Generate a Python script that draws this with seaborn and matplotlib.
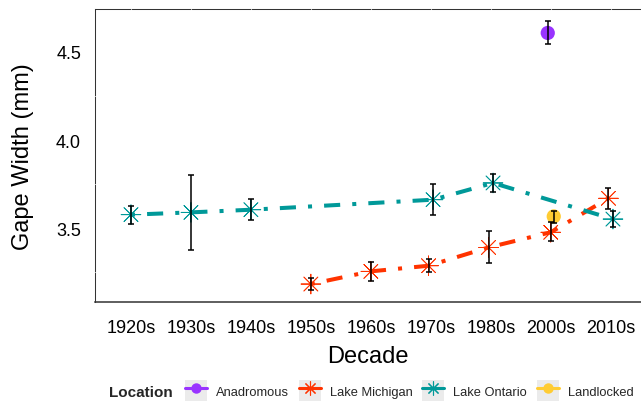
import numpy as np
import pandas as pd
import matplotlib
matplotlib.use("Agg")
import matplotlib.pyplot as plt
from matplotlib.lines import Line2D
from matplotlib.patches import Rectangle
from matplotlib.legend_handler import HandlerTuple
import seaborn as sns

# ---------------- data ----------------
decades = ["1920s", "1930s", "1940s", "1950s", "1960s", "1970s", "1980s", "2000s", "2010s"]
locations = ["Anadromous", "Lake Michigan", "Lake Ontario", "Landlocked"]

ontario_decades = ["1920s", "1930s", "1940s", "1970s", "1980s", "2010s"]
ontario_mean = [3.576, 3.589, 3.604, 3.661, 3.756, 3.551]
ontario_lo = [3.523, 3.373, 3.547, 3.572, 3.703, 3.504]
ontario_hi = [3.623, 3.801, 3.665, 3.752, 3.807, 3.598]

michigan_decades = ["1950s", "1960s", "1970s", "1980s", "2000s", "2010s"]
michigan_mean = [3.182, 3.254, 3.286, 3.390, 3.476, 3.669]
michigan_lo = [3.149, 3.199, 3.248, 3.299, 3.426, 3.610]
michigan_hi = [3.214, 3.309, 3.322, 3.481, 3.534, 3.727]

anadromous_decades = ["2000s"]
anadromous_mean = [4.608]
anadromous_lo = [4.545]
anadromous_hi = [4.676]

landlocked_decades = ["2000s"]
landlocked_mean = [3.566]
landlocked_lo = [3.527]
landlocked_hi = [3.598]

palette = {"Anadromous": "#9933FF", "Lake Michigan": "#FF3300",
           "Lake Ontario": "#009999", "Landlocked": "#FFCC33"}
asterisk = (8, 2, 0)
markers = {"Anadromous": "o", "Lake Michigan": asterisk,
           "Lake Ontario": asterisk, "Landlocked": "o"}

# ---------------- build table ----------------
frames = []
for loc, d, m, lo, hi in [
    ("Anadromous", anadromous_decades, anadromous_mean, anadromous_lo, anadromous_hi),
    ("Lake Michigan", michigan_decades, michigan_mean, michigan_lo, michigan_hi),
    ("Lake Ontario", ontario_decades, ontario_mean, ontario_lo, ontario_hi),
    ("Landlocked", landlocked_decades, landlocked_mean, landlocked_lo, landlocked_hi),
]:
    frames.append(pd.DataFrame({"Decade": d, "Location": loc, "Gape": m, "lo": lo, "hi": hi}))
df = pd.concat(frames, ignore_index=True)

# dodge positions (like position_dodge)
dodge_w = 0.15
df["xpos"] = 0.0
for dec, grp in df.groupby("Decade"):
    present = [l for l in locations if l in set(grp["Location"])]
    n = len(present)
    for idx in grp.index:
        i = present.index(df.at[idx, "Location"])
        df.at[idx, "xpos"] = decades.index(dec) + dodge_w * ((i + 0.5) / n - 0.5)

# ---------------- figure ----------------
sns.set_theme(style="white")
plt.rcParams["font.family"] = ["Liberation Sans", "DejaVu Sans"]

fig = plt.figure(figsize=(6.41, 4.02), dpi=100)
W, H = 641, 402
ax = fig.add_axes([95 / W, 1 - 303 / H, (641 - 95) / W, (303 - 10) / H])

lakes = df[df["Location"].isin(["Lake Michigan", "Lake Ontario"])]
sns.lineplot(data=lakes, x="xpos", y="Gape", hue="Location", style="Location",
             palette=palette, dashes={"Lake Michigan": (1, 3, 4, 3), "Lake Ontario": (1, 3, 4, 3)},
             estimator=None, errorbar=None, sort=True, legend=False, lw=2.9, ax=ax, zorder=3)

circ = df[df["Location"].isin(["Anadromous", "Landlocked"])]
ast = df[df["Location"].isin(["Lake Michigan", "Lake Ontario"])]
sns.scatterplot(data=ast, x="xpos", y="Gape", hue="Location",
                palette=palette, marker=asterisk, s=200, linewidth=0.6,
                legend=False, ax=ax, zorder=4)
sns.scatterplot(data=circ, x="xpos", y="Gape", hue="Location",
                palette=palette, marker="o", s=105, linewidth=0,
                legend=False, ax=ax, zorder=4)

ax.errorbar(df["xpos"], df["Gape"], yerr=[df["Gape"] - df["lo"], df["hi"] - df["Gape"]],
            fmt="none", ecolor="black", elinewidth=1.1, capsize=2.4, capthick=1.1, zorder=5)

ax.set_xlim(-0.6, 8.505)
ax.set_ylim(3.08, 4.744)
ax.set_xticks(range(len(decades)))
ax.set_xticklabels(decades)
ax.set_yticks([3.5, 4.0, 4.5])
ax.set_yticklabels(["3.5", "4.0", "4.5"])
ax.tick_params(axis="both", labelsize=13, colors="#333333", labelcolor="black",
               length=2.5, width=0.8, direction="out")
ax.tick_params(axis="y", pad=7.5)
ax.tick_params(axis="x", pad=10)

for s in ["top", "left", "bottom"]:
    ax.spines[s].set_visible(True)
    ax.spines[s].set_color("#333333")
ax.spines["right"].set_visible(False)
ax.spines["top"].set_linewidth(0.75)
ax.spines["left"].set_linewidth(0.75)
ax.spines["bottom"].set_linewidth(1.1)
ax.spines["bottom"].set_zorder(2.8)

# white grid lines (visible only where they cross the border)
for i in range(len(decades)):
    ax.axvline(i, color="white", lw=0.6, zorder=2.6)
for yv in [3.25, 3.75, 4.25]:
    ax.axhline(yv, color="white", lw=0.6, zorder=2.6)

ax.set_xlabel("Decade", fontsize=17, color="black")
ax.set_ylabel("Gape Width (mm)", fontsize=17, color="black")
ax.xaxis.label.set_va("center")
ax.xaxis.set_label_coords(0.5, (303 - 357) / 293)
ax.yaxis.label.set_va("center")
ax.yaxis.set_label_coords((23 - 95) / 546, 0.5)

# legend
fig.text(109 / W, 1 - 393 / H, "Location", fontsize=11, fontweight="bold",
         ha="left", va="center")
handles = []
for loc in locations:
    bg = Rectangle((0, 0), 1, 1, facecolor="#EBEBEB", edgecolor="none")
    ms = 7.5 if markers[loc] == "o" else 10
    ln = Line2D([0], [0], color=palette[loc], lw=2.2, marker=markers[loc],
                markersize=ms, markeredgewidth=0.8 if markers[loc] != "o" else 0,
                markerfacecolor=palette[loc], markeredgecolor=palette[loc])
    handles.append((bg, ln))
fig.legend(handles, locations, handler_map={tuple: HandlerTuple(ndivide=1, pad=0)},
           loc="center left", bbox_to_anchor=(185 / W, 1 - 392 / H), ncol=4,
           frameon=False, fontsize=9.3, handlelength=1.7, handleheight=2.24,
           handletextpad=0.7, columnspacing=0.75, borderpad=0, borderaxespad=0)

fig.savefig("out.png", dpi=100)
